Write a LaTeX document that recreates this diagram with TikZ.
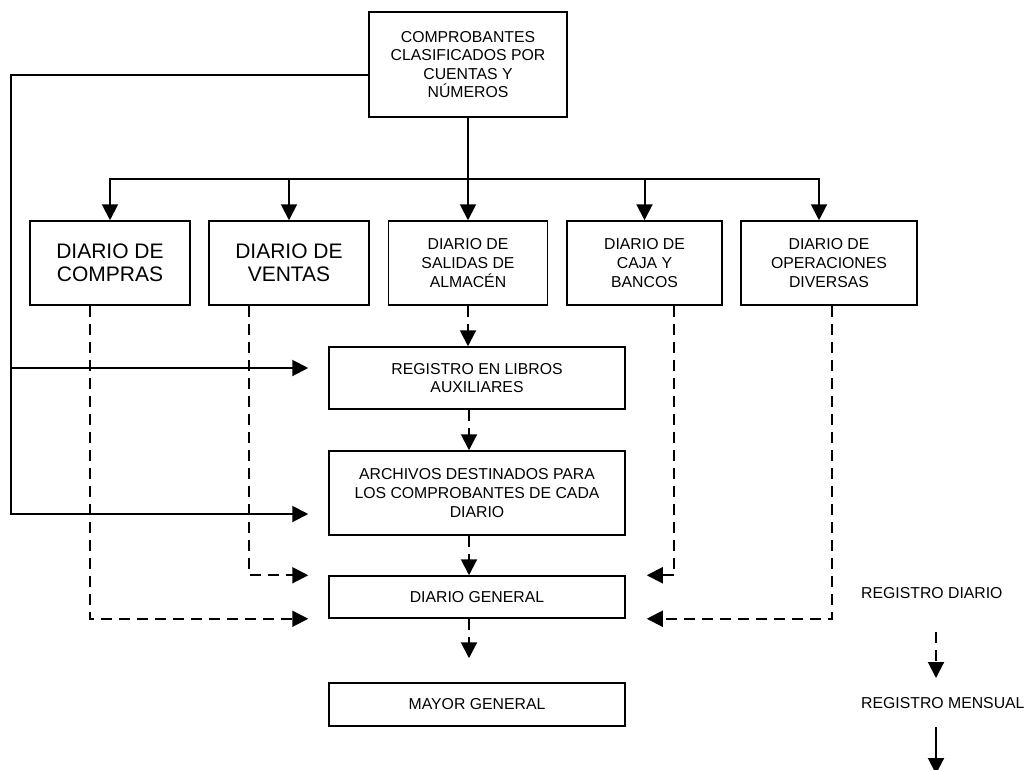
\documentclass[tikz,border=0pt]{standalone}
\usepackage{fontspec}
\setmainfont{Liberation Sans}
\usetikzlibrary{arrows.meta}

\begin{document}
\begin{tikzpicture}[x=1pt, y=-1pt,
		box/.style={draw, line width=1.5pt, align=center, inner sep=0pt, font=\fontsize{15.8}{18.6}\selectfont},
		bigbox/.style={box, font=\fontsize{21}{23}\selectfont},
		conn/.style={line width=2pt, -{Triangle[length=16pt,width=16pt]}},
		dconn/.style={conn, dash pattern=on 11pt off 7pt},
		legend/.style={anchor=west, inner sep=0pt, font=\fontsize{15.8}{18.6}\selectfont}]
	\useasboundingbox (0,0) rectangle (1036,769);
	% cajas
	\node[box, minimum width=198pt, minimum height=105pt] (comp) at (468,64.5) {COMPROBANTES\\CLASIFICADOS POR\\CUENTAS Y\\NÚMEROS};
	\node[bigbox, minimum width=160pt, minimum height=84pt] (compras) at (110,263) {DIARIO DE\\COMPRAS};
	\node[bigbox, minimum width=160pt, minimum height=84pt] (ventas) at (289,263) {DIARIO DE\\VENTAS};
	\node[box, minimum width=159pt, minimum height=84pt] (salidas) at (468,263) {DIARIO DE\\SALIDAS DE\\ALMACÉN};
	\node[box, minimum width=155pt, minimum height=84pt] (caja) at (644.5,263) {DIARIO DE\\CAJA Y\\BANCOS};
	\node[box, minimum width=176pt, minimum height=84pt] (oper) at (829,263) {DIARIO DE\\OPERACIONES\\DIVERSAS};
	\node[box, minimum width=296pt, minimum height=62pt] (registro) at (477,378) {REGISTRO EN LIBROS\\AUXILIARES};
	\node[box, minimum width=296pt, minimum height=84pt] (archivos) at (477,493) {ARCHIVOS DESTINADOS PARA\\LOS COMPROBANTES DE CADA\\DIARIO};
	\node[box, minimum width=296pt, minimum height=42pt] (dgeneral) at (477,597) {DIARIO GENERAL};
	\node[box, minimum width=296pt, minimum height=43pt] (mayor) at (477,704.5) {MAYOR GENERAL};
	\node[legend] (regdiario) at (861,593) {REGISTRO DIARIO};
	\node[legend] (regmensual) at (861,703) {REGISTRO MENSUAL};
	% puntos de paso
	\coordinate (split) at (468,179);
	\coordinate (lbranch) at (11,368);
	\coordinate (lbottom) at (11,514);
	\coordinate (legd1) at (936,632);
	\coordinate (legd2) at (936,678);
	\coordinate (legs1) at (936,727);
	\coordinate (legs2) at (936,774);
	% flechas continuas
	\draw[conn] (comp.south) -- (salidas.north);
	\foreach \n in {compras,ventas,caja}
		\draw[conn] (split) -| (\n.north);
	\draw[conn] (split) -| ([xshift=-10pt]oper.north);
	\draw[conn, shorten >=20pt] ([yshift=-10.5pt]comp.west) -| (lbottom) -- (archivos.west |- lbottom);
	\draw[conn, shorten >=20pt] (lbranch) -- (registro.west |- lbranch);
	% flechas discontinuas
	\draw[dconn] (salidas.south) -- (salidas.south |- registro.north);
	\draw[dconn] ([xshift=-8pt]registro.south) -- ([xshift=-8pt]archivos.north);
	\draw[dconn] ([xshift=-8pt]archivos.south) -- ([xshift=-8pt]dgeneral.north);
	\draw[dconn, shorten >=24pt] ([xshift=-8pt]dgeneral.south) -- ([xshift=-8pt]mayor.north);
	\draw[dconn, shorten >=20pt] ([xshift=-20pt]compras.south) |- (dgeneral.south west);
	\draw[dconn, shorten >=20pt] ([xshift=-40pt]ventas.south) |- (dgeneral.north west);
	\draw[dconn, shorten >=21pt] ([xshift=29.5pt]caja.south) |- (dgeneral.north east);
	\draw[dconn, shorten >=21pt] ([xshift=3pt]oper.south) |- (dgeneral.south east);
	% leyenda
	\draw[dconn] (legd1) -- (legd2);
	\draw[conn] (legs1) -- (legs2);
\end{tikzpicture}
\end{document}
